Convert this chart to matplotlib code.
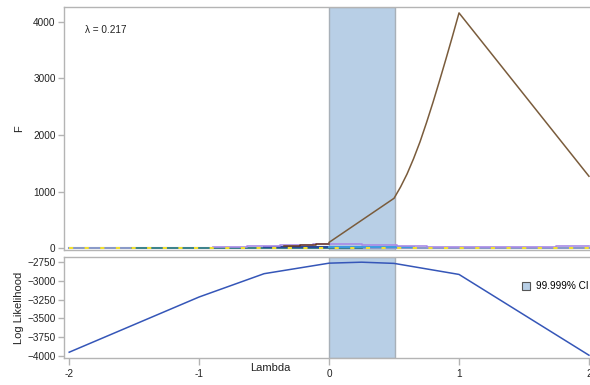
import matplotlib
matplotlib.use('Agg')
import matplotlib.pyplot as plt
from matplotlib.patches import Patch

plt.rcParams['font.family'] = ['Liberation Sans', 'DejaVu Sans']

# best lambda and confidence interval
best_lambda = 0.217
ci_low, ci_high = 0.0, 0.505

# main F curve
f_lam = [0.0, 0.5, 0.55, 0.6, 0.65, 0.7, 0.75, 0.8, 0.85, 0.9, 0.95, 1.0, 2.0]
f_val = [100, 880, 1080, 1310, 1580, 1880, 2220, 2580, 2960, 3350, 3750, 4160, 1270]

# small step series near zero
base_lam = [-2.0, 2.0]
base_val = [0, 0]
teal_lam = [-1.52, 0.25]
teal_val = [8, 8]
purple_lam = [-0.89, -0.63, -0.38, -0.12, 0.25, 0.52, 0.75, 1.26, 1.75, 2.0]
purple_val = [25, 35, 50, 68, 50, 38, 20, 12, 32, 32]
brown_lam = [-0.35, -0.22, -0.1, 0.0]
brown_val = [40, 55, 70, 70]
navy_lam = [-0.5, 0.25]
navy_val = [10, 10]
lightblue_lam = [0.0, 0.65]
lightblue_val = [12, 12]

# log likelihood
ll_lam = [-2.0, -1.0, -0.5, 0.0, 0.25, 0.5, 1.0, 2.0]
ll_val = [-3950, -3215, -2905, -2765, -2752, -2768, -2915, -3990]

spine_col = '#b4b4b4'
band_col = '#b8cfe6'

fig = plt.figure(figsize=(5.9, 3.85), dpi=100)
ax1 = fig.add_axes([64 / 590, 1 - 250 / 385, 526 / 590, 243 / 385])
ax2 = fig.add_axes([64 / 590, 1 - 358 / 385, 526 / 590, 101 / 385], sharex=ax1)

for ax in (ax1, ax2):
    ax.axvspan(ci_low, ci_high, facecolor=band_col, edgecolor='#a8b0b8', lw=1.0, zorder=0)
    for s in ax.spines.values():
        s.set_color(spine_col)
        s.set_linewidth(1.0)
    ax.spines['right'].set_visible(False)
    ax.tick_params(axis='y', colors=spine_col, labelcolor='#222222', labelsize=7.2,
                   length=4, width=1, pad=2)

# top panel
ax1.plot(base_lam, base_val, color='#8a9ac8', lw=1.5, zorder=2)
ax1.plot(teal_lam, teal_val, color='#2f8080', lw=1.2, drawstyle='steps-post', zorder=3)
ax1.plot(navy_lam, navy_val, color='#2a4a9a', lw=1.5, drawstyle='steps-post', zorder=3)
ax1.plot(lightblue_lam, lightblue_val, color='#3d9be0', lw=1.4, drawstyle='steps-post', zorder=3)
ax1.plot(purple_lam, purple_val, color='#a88ae6', lw=1.2, drawstyle='steps-post', zorder=3)
ax1.plot(brown_lam, brown_val, color='#6a3a20', lw=1.1, drawstyle='steps-post', zorder=3)
ax1.plot(base_lam, base_val, color='#f2e030', lw=1.5, dashes=(2, 5.5), zorder=4)
ax1.plot(f_lam, f_val, color='#7a5c3c', lw=1.1, zorder=5)

ax1.set_xlim(-2.04, 2.008)
ax1.set_ylim(-35, 4265)
ax1.set_yticks([0, 1000, 2000, 3000, 4000])
ax1.tick_params(axis='x', bottom=False, labelbottom=False)
ax1.set_ylabel('F', fontsize=8, color='#222222')
ax1.yaxis.set_label_coords(-0.076, 0.5)
ax1.text(0.04, 0.893, 'λ = %.3f' % best_lambda, transform=ax1.transAxes,
         fontsize=7.2, color='#222222')

# bottom panel
ax2.plot(ll_lam, ll_val, color='#3556b8', lw=1.1, zorder=3)
ax2.set_ylim(-4027, -2683)
ax2.set_yticks([-2750, -3000, -3250, -3500, -3750, -4000])
ax2.set_xticks([-2, -1, 0, 1, 2])
ax2.set_xticklabels(['-2', '-1', '0', '1', '2'])
ax2.tick_params(axis='x', colors=spine_col, labelcolor='#222222', labelsize=7.2,
                length=5, width=1, pad=3)
ax2.set_xlabel('Lambda', fontsize=8, color='#222222')
ax2.xaxis.set_label_coords(0.392, -0.05)
ax2.set_ylabel('Log Likelihood', fontsize=8, color='#222222')
ax2.yaxis.set_label_coords(-0.076, 0.5)

ax2.legend(handles=[Patch(facecolor=band_col, edgecolor='#555555', lw=0.8, label='99.999% CI')],
           loc='upper right', bbox_to_anchor=(1.01, 0.83), frameon=False, fontsize=7.2,
           handlelength=0.8, handleheight=0.8, handletextpad=0.6, borderpad=0.2)

fig.savefig('out.png', dpi=100)
